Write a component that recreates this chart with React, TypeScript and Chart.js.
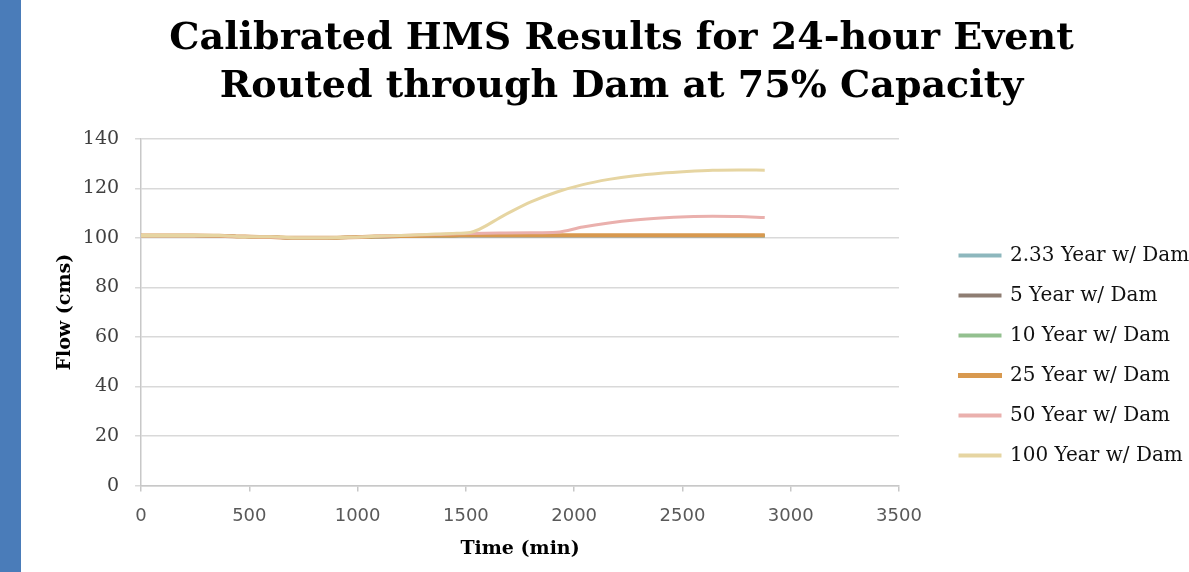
import React, { useEffect, useRef } from "react";
import { Chart, registerables } from "chart.js";

Chart.register(...registerables);

const TITLE_LINES = [
  "Calibrated HMS Results for 24-hour Event",
  "Routed through Dam at 75% Capacity",
];
const X_TITLE = "Time (min)";
const Y_TITLE = "Flow (cms)";

const TIME_MIN = [
  0, 120, 240, 360, 480, 600, 720, 840, 960, 1080, 1200, 1320, 1440, 1520,
  1680, 1800, 1920, 2040, 2160, 2280, 2400, 2520, 2640, 2760, 2880,
];

const SERIES_NAMES = [
  "2.33 Year w/ Dam",
  "5 Year w/ Dam",
  "10 Year w/ Dam",
  "25 Year w/ Dam",
  "50 Year w/ Dam",
  "100 Year w/ Dam",
];

const Q_2_33 = [
  101, 101, 101, 100.9, 100.5, 100.3, 100, 100, 100.1, 100.3, 100.5, 100.6,
  100.7, 100.8, 100.8, 100.8, 100.8, 100.8, 100.8, 100.8, 100.8, 100.8, 100.8,
  100.8, 100.8,
];
const Q_5 = [
  101, 101, 101, 100.9, 100.5, 100.3, 100, 100, 100.2, 100.4, 100.6, 100.7,
  100.8, 100.9, 100.9, 100.9, 100.9, 100.9, 100.9, 100.9, 100.9, 100.9, 100.9,
  100.9, 100.9,
];
const Q_10 = [
  101, 101, 101, 100.9, 100.5, 100.3, 100, 100, 100.2, 100.4, 100.6, 100.8,
  100.9, 101, 101, 101, 101, 101, 101, 101, 101, 101, 101, 100.9, 100.9,
];
const Q_25 = [
  101, 101, 101, 100.9, 100.5, 100.3, 100, 100, 100.2, 100.5, 100.7, 100.9,
  101, 101.1, 101.1, 101.1, 101.1, 101.1, 101.1, 101.1, 101.1, 101.1, 101.1,
  101.1, 101.1,
];
const Q_50 = [
  101, 101, 101, 100.9, 100.5, 100.3, 100, 100, 100.2, 100.6, 101, 101.3,
  101.6, 101.8, 102, 102.1, 102.3, 104.4, 106, 107.2, 108, 108.5, 108.7, 108.6,
  108.2,
];
const Q_100 = [
  101, 101, 101, 101, 100.4, 100.4, 100, 100, 100.2, 100.6, 101, 101.4, 101.8,
  102.2, 109.3, 114.5, 118.5, 121.5, 123.6, 125.1, 126.1, 126.8, 127.3, 127.4,
  127.3,
];

const SERIES_VALUES = [Q_2_33, Q_5, Q_10, Q_25, Q_50, Q_100];
const SERIES_COLORS = [
  "#8db7bd",
  "#8e7d72",
  "#93c08f",
  "#d8994f",
  "#eab0ad",
  "#e6d5a2",
];
const SERIES_WIDTHS = [3, 3, 3, 4, 3, 3];

const X_MIN = 0;
const X_MAX = 3500;
const X_STEP = 500;
const Y_MIN = 0;
const Y_MAX = 140;
const Y_STEP = 20;

export default function App() {
  const canvasRef = useRef<HTMLCanvasElement | null>(null);

  useEffect(() => {
    if (!canvasRef.current) return;
    const datasets = SERIES_NAMES.map((name, i) => ({
      label: name,
      data: TIME_MIN.map((t, j) => ({ x: t, y: SERIES_VALUES[i][j] })),
      borderColor: SERIES_COLORS[i],
      backgroundColor: SERIES_COLORS[i],
      borderWidth: SERIES_WIDTHS[i],
      pointRadius: 0,
      tension: 0.3,
      cubicInterpolationMode: "monotone" as const,
      fill: false,
      order: SERIES_NAMES.length - i,
      yAxisID: "y",
    }));

    const chart = new Chart(canvasRef.current, {
      type: "line",
      data: { datasets },
      options: {
        responsive: true,
        maintainAspectRatio: false,
        animation: false,
        layout: { padding: { left: 33, right: 0, top: 8, bottom: 12 } },
        plugins: {
          title: {
            display: true,
            text: TITLE_LINES,
            color: "#000",
            font: { family: "DejaVu Serif", size: 38, weight: "bold", lineHeight: 1.26 },
            padding: { top: 7, bottom: 28 },
          },
          legend: {
            position: "right",
            align: "end",
            fullSize: false,
            reverse: true,
            maxWidth: 249,
            labels: {
              boxWidth: 40,
              boxHeight: 1,
              color: "#111",
              padding: 20,
              font: { family: "DejaVu Serif", size: 20 },
            },
          },
          tooltip: { enabled: false },
        },
        scales: {
          x: {
            type: "linear",
            min: X_MIN,
            max: X_MAX,
            ticks: {
              stepSize: X_STEP,
              color: "#595959",
              font: { family: "DejaVu Sans", size: 18 },
              padding: 14,
              callback: (v: any) => String(v),
            },
            grid: {
              drawOnChartArea: false,
              drawTicks: true,
              tickLength: 6,
              color: "#c8c8c8",
              lineWidth: 1.5,
            },
            border: { color: "#c8c8c8", width: 1.5 },
            title: {
              display: true,
              text: X_TITLE,
              color: "#000",
              font: { family: "DejaVu Serif", size: 19, weight: "bold" },
              padding: { top: -4, bottom: 0 },
            },
          },
          y: {
            type: "linear",
            position: "left",
            min: Y_MIN,
            max: Y_MAX,
            ticks: {
              stepSize: Y_STEP,
              color: "#404040",
              font: { family: "DejaVu Serif", size: 19 },
              padding: 16,
              callback: (v: any) => String(v),
            },
            grid: {
              color: "#d9d9d9",
              lineWidth: 1.5,
              tickLength: 6,
            },
            border: { color: "#c8c8c8", width: 1.5 },
            title: {
              display: true,
              text: Y_TITLE,
              color: "#000",
              font: { family: "DejaVu Serif", size: 19, weight: "bold" },
              padding: { top: 0, bottom: -10 },
            },
          },
          gap: {
            type: "linear",
            position: "right",
            display: true,
            grid: { display: false, drawTicks: false },
            border: { display: false },
            ticks: { display: false },
            afterFit: (scale: any) => {
              scale.width = 41;
            },
          },
        },
      },
    });
    return () => chart.destroy();
  }, []);

  return (
    <div
      style={{
        position: "fixed",
        left: 0,
        top: 0,
        width: "100vw",
        height: "100vh",
        overflow: "hidden",
        background: "#fff",
      }}
    >
      <div
        style={{
          position: "absolute",
          left: 0,
          top: 0,
          width: 21,
          height: "100%",
          background: "#4a7cb9",
        }}
      />
      <div
        style={{
          position: "absolute",
          left: 21,
          top: 0,
          width: 1168,
          height: 572,
        }}
      >
        <canvas ref={canvasRef} />
      </div>
    </div>
  );
}
